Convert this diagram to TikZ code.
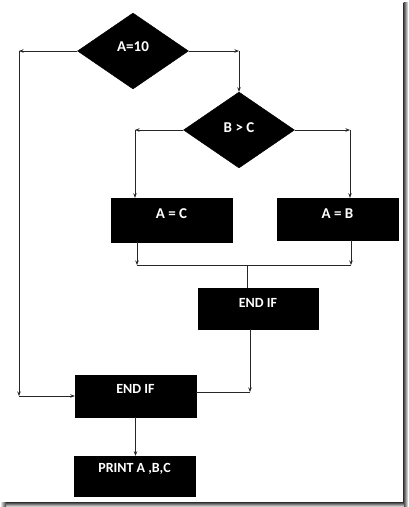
\documentclass[tikz,border=0pt]{standalone}
\usepackage{fontspec}
\setmainfont{Carlito}
\usetikzlibrary{shapes.geometric,arrows.meta,calc}
\tikzset{
  conn/.style={draw=black!85, line width=0.7pt},
  arr/.style={conn, -{Stealth[length=4.5pt,width=3.5pt]}},
  dia/.style={diamond, fill=black, draw=black, inner sep=0pt, aspect=1.46,
    minimum width=111pt, minimum height=76pt},
  blk/.style={rectangle, fill=black, draw=black, inner sep=0pt, minimum width=121pt},
  lblbig/.style={text=white, font=\bfseries\fontsize{15}{17}\selectfont},
  lblsm/.style={text=white, font=\bfseries\fontsize{14}{16}\selectfont},
}
\begin{document}
\begin{tikzpicture}[x=1pt,y=-1pt]
\useasboundingbox (0,0) rectangle (408,507);
\fill[white] (0,0) rectangle (408,507);
% shadow frame
\shade[left color=black!75, right color=black!5] (403.5,2) rectangle (408,507);
\shade[top color=black!75, bottom color=black!5] (2,502.5) rectangle (403.5,507);
\shade[left color=white, right color=black!75] (0,502.5) rectangle (6,507);

% nodes
\node[dia, label={[lblbig,yshift=4pt]center:A=10}] (d1) at (133,51) {};
\node[dia, label={[lblbig,yshift=2pt]center:B > C}] (d2) at (239,130) {};
\node[blk, minimum height=44pt, label={[lblbig,yshift=6pt]center:A = C}] (ac) at (171.5,220) {};
\node[blk, minimum height=42pt, label={[lblbig,yshift=5pt]center:A = B}] (ab) at (337.5,219) {};
\node[blk, minimum width=120pt, minimum height=41pt, label={[lblsm,yshift=5.5pt]center:END IF}] (e1) at (258,308.5) {};
\node[blk, minimum height=42pt, label={[lblsm,yshift=7pt]center:END IF}] (e2) at (135.5,396) {};
\node[blk, minimum height=40pt, label={[lblsm,yshift=7pt]center:PRINT A ,B,C}] (pr) at (134.5,476) {};

% helper coordinates
\coordinate (lt) at (19,51);
\coordinate (lb) at (19,396);
\coordinate (rt) at (239,51);
\coordinate (l2) at (135,130);
\coordinate (r2) at (350,130);
\coordinate (m1) at (137,265);
\coordinate (m2) at (351,265);
\coordinate (j) at (247,265);
\coordinate (k) at (250,392);

% connectors
\draw[arr] (d1.west) -- (lt);
\draw[arr] (lt) -- (lb);
\draw[arr] (lb) -- (e2.west);
\draw[arr] (d1.east) -- (rt);
\draw[arr] (rt) -- (d2.north);
\draw[arr] (d2.west) -- (l2);
\draw[arr] (l2) -- (l2 |- ac.north);
\draw[arr] (d2.east) -- (r2);
\draw[arr] (r2) -- (r2 |- ab.north);
\draw[arr] (m1 |- ac.south) -- (m1);
\draw[arr] (m2 |- ab.south) -- (m2);
\draw[conn] (m1) -- (m2);
\draw[conn] (j) -- (j |- e1.north);
\draw[arr] (k |- e1.south) -- (k);
\draw[conn] (e2.east |- k) -- (k);
\draw[arr] (e2.south) -- (e2.south |- pr.north);
\end{tikzpicture}
\end{document}
